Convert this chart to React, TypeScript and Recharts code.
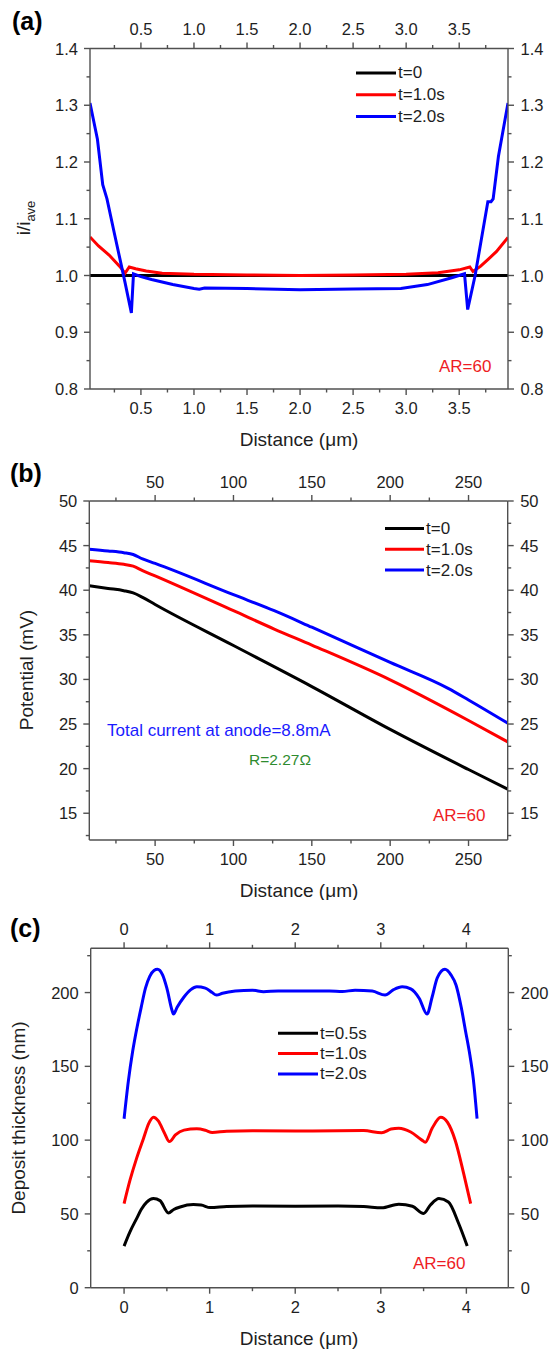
import React from 'react';
import { LineChart, Line, XAxis, YAxis, Legend } from 'recharts';

const FONT = '"Liberation Sans", Arial, Helvetica, sans-serif';
const AXIS = '#505050';
const INK = '#1e1e1e';
const BLACK = '#000000';
const RED = '#ff0000';
const BLUE = '#0000ff';
const ANN_RED = '#ee1c24';
const ANN_BLUE = '#1a1aff';
const ANN_GREEN = '#2e8b2e';

// ---------- Panel (a): i/i_ave vs distance (um) ----------
const aBlackX = [0.02, 3.96];
const aBlackY = [1.0, 1.0];
const aRedX = [0.02, 0.1, 0.2, 0.3, 0.35, 0.39, 0.45, 0.55, 0.7, 1.0, 1.5, 2.0, 2.5, 3.0, 3.3, 3.5, 3.6, 3.63, 3.7, 3.77, 3.85, 3.96];
const aRedY = [1.068, 1.052, 1.036, 1.016, 1.004, 1.015, 1.012, 1.008, 1.004, 1.002, 1.001, 1.0, 1.001, 1.002, 1.005, 1.01, 1.015, 1.007, 1.016, 1.028, 1.042, 1.067];
const aBlueX = [0.02, 0.09, 0.14, 0.18, 0.25, 0.3, 0.35, 0.41, 0.43, 0.5, 0.6, 0.8, 1.0, 1.05, 1.1, 1.5, 2.0, 2.5, 2.95, 3.2, 3.43, 3.55, 3.58, 3.65, 3.77, 3.8, 3.82, 3.87, 3.96];
const aBlueY = [1.304, 1.24, 1.16, 1.135, 1.074, 1.031, 0.988, 0.934, 1.003, 0.998, 0.993, 0.984, 0.977, 0.976, 0.978, 0.977, 0.975, 0.976, 0.977, 0.984, 0.996, 1.003, 0.94, 1.0, 1.13, 1.13, 1.135, 1.21, 1.304];
const aXTicks = [0.25, 0.5, 0.75, 1.0, 1.25, 1.5, 1.75, 2.0, 2.25, 2.5, 2.75, 3.0, 3.25, 3.5, 3.75];
const aXMajor = [0.5, 1.0, 1.5, 2.0, 2.5, 3.0, 3.5];
const aYTicks = [0.8, 0.85, 0.9, 0.95, 1.0, 1.05, 1.1, 1.15, 1.2, 1.25, 1.3, 1.35, 1.4];
const aYMajor = [0.8, 0.9, 1.0, 1.1, 1.2, 1.3, 1.4];

// ---------- Panel (b): potential (mV) vs distance (um) ----------
const bBlackX = [8, 20, 30, 36, 42, 50, 100, 150, 200, 250, 275];
const bBlackY = [40.5, 40.2, 39.95, 39.7, 39.2, 38.4, 33.8, 29.2, 24.4, 19.9, 17.7];
const bRedX = [8, 20, 30, 36, 42, 50, 100, 126, 150, 200, 250, 275];
const bRedY = [43.3, 43.1, 42.9, 42.7, 42.2, 41.6, 37.7, 35.65, 33.85, 29.95, 25.4, 23.0];
const bBlueX = [8, 20, 30, 36, 42, 50, 100, 126, 150, 200, 237, 250, 275];
const bBlueY = [44.6, 44.4, 44.2, 44.0, 43.5, 43.0, 39.5, 37.7, 35.85, 31.9, 29.0, 27.7, 25.1];
const bXTicks = [25, 50, 75, 100, 125, 150, 175, 200, 225, 250];
const bXMajor = [50, 100, 150, 200, 250];
const bYTicks = [12.5, 15, 17.5, 20, 22.5, 25, 27.5, 30, 32.5, 35, 37.5, 40, 42.5, 45, 47.5, 50];
const bYMajor = [15, 20, 25, 30, 35, 40, 45, 50];

// ---------- Panel (c): deposit thickness (nm) vs distance (um) ----------
const cBlackX = [0, 0.07, 0.148, 0.2, 0.265, 0.343, 0.42, 0.518, 0.58, 0.655, 0.81, 0.9, 1.006, 1.2, 1.5, 2.0, 2.5, 2.8, 3.01, 3.21, 3.37, 3.5, 3.58, 3.68, 3.79, 3.91, 4.01];
const cBlackY = [28.2, 38, 47, 53, 58, 60.4, 59, 50.7, 53, 54.7, 56.3, 56, 54.3, 55, 55.3, 55.2, 55.3, 55, 54.1, 56.6, 55.2, 50.3, 56, 60.4, 58.1, 43.5, 28.2];
const cRedX = [0, 0.07, 0.148, 0.226, 0.29, 0.343, 0.4, 0.47, 0.53, 0.6, 0.7, 0.85, 0.95, 1.03, 1.2, 1.5, 2.0, 2.5, 2.8, 3.01, 3.12, 3.21, 3.35, 3.48, 3.52, 3.6, 3.7, 3.78, 3.87, 3.97, 4.05];
const cRedY = [57, 73, 88, 101, 111.5, 115.5, 113, 105, 99, 103.5, 106.8, 107.7, 106.7, 105.2, 106, 106.3, 106.2, 106.4, 106.5, 105, 107.5, 108.1, 105.5, 100, 98.6, 108, 115.5, 112, 99.8, 77, 57];
const cBlueX = [0, 0.05, 0.1, 0.15, 0.2, 0.25, 0.3, 0.35, 0.39, 0.45, 0.5, 0.56, 0.577, 0.62, 0.7, 0.78, 0.85, 0.95, 1.03, 1.08, 1.15, 1.3, 1.5, 1.63, 1.8, 2.0, 2.2, 2.4, 2.55, 2.7, 2.9, 3.05, 3.15, 3.25, 3.35, 3.45, 3.54, 3.6, 3.66, 3.75, 3.82, 3.88, 3.94, 3.99, 4.04, 4.08, 4.125];
const cBlueY = [114.5, 140, 160, 176, 190, 203, 211, 215, 215.8, 212, 203, 188, 185.4, 190, 197, 202, 203.9, 203, 200, 198.3, 199.5, 201, 201.6, 200.6, 201.1, 201, 201, 201, 200.7, 201.6, 201, 198.3, 202, 203.9, 202.5, 196, 185.4, 197, 210, 215.8, 212, 205, 190, 174, 158, 142, 114.5];
const cXTicks = [0, 0.5, 1, 1.5, 2, 2.5, 3, 3.5, 4];
const cXMajor = [0, 1, 2, 3, 4];
const cYTicks = [0, 25, 50, 75, 100, 125, 150, 175, 200, 225];
const cYMajor = [0, 50, 100, 150, 200];

const zip = (xs: number[], ys: number[]) => xs.map((x, i) => ({ x, y: ys[i] }));

type Side = 'top' | 'bottom' | 'left' | 'right';
function makeTick(side: Side, majors: number[], fmt: (v: number) => string, gap: number) {
  return (props: any) => {
    const { x, y, payload } = props;
    const v = Number(payload.value);
    const isMajor = majors.some((m) => Math.abs(m - v) < 1e-6);
    const len = isMajor ? 6 : 3.5;
    let x2 = x, y2 = y, tx = x, ty = y;
    let anchor: 'start' | 'middle' | 'end' = 'middle';
    if (side === 'bottom') { y2 = y + len; ty = y + gap; }
    else if (side === 'top') { y2 = y - len; ty = y - gap; }
    else if (side === 'left') { x2 = x - len; tx = x - gap; anchor = 'end'; }
    else { x2 = x + len; tx = x + gap; anchor = 'start'; }
    return (
      <g>
        <line x1={x} y1={y} x2={x2} y2={y2} stroke={AXIS} strokeWidth={1.4} />
        {isMajor && (
          <text x={tx} y={ty} textAnchor={anchor} dominantBaseline="central" fontSize={16.5} fontFamily={FONT} fill={INK}>
            {fmt(v)}
          </text>
        )}
      </g>
    );
  };
}

function legendContent(rowH: number, lineW: number) {
  return (props: any) => {
    const payload = props.payload || [];
    return (
      <svg width={130} height={rowH * payload.length + 4} style={{ overflow: 'visible', display: 'block' }}>
        {payload.map((p: any, i: number) => {
          const cy = rowH * i + rowH / 2;
          return (
            <g key={i}>
              <line x1={0} x2={lineW} y1={cy} y2={cy} stroke={p.color} strokeWidth={3} />
              <text x={lineW + 2} y={cy} dominantBaseline="central" fontSize={17} fontFamily={FONT} fill={INK}>
                {p.value}
              </text>
            </g>
          );
        })}
      </svg>
    );
  };
}

interface SeriesDef { name: string; color: string; xs: number[]; ys: number[] }
interface PanelProps {
  height: number;
  margin: { top: number; right: number; bottom: number; left: number };
  rightW: number;
  xDomain: [number, number];
  yDomain: [number, number];
  xTicks: number[]; xMajor: number[]; xFmt: (v: number) => string;
  yTicks: number[]; yMajor: number[]; yFmt: (v: number) => string;
  series: SeriesDef[];
  curve: 'linear' | 'monotone';
  legendPos: { left: number; top: number; rowH: number; lineW: number };
  children?: React.ReactNode;
}

function Panel(p: PanelProps) {
  const axisLine = { stroke: AXIS, strokeWidth: 1.4 };
  return (
    <LineChart width={550} height={p.height} margin={p.margin} style={{ fontFamily: FONT }}>
      <XAxis xAxisId="b" orientation="bottom" type="number" dataKey="x" domain={p.xDomain} allowDataOverflow
        ticks={p.xTicks} interval={0} tickSize={0} tickMargin={0} tickLine={false} axisLine={axisLine} height={30}
        tick={makeTick('bottom', p.xMajor, p.xFmt, 19)} />
      <XAxis xAxisId="t" orientation="top" type="number" dataKey="x" domain={p.xDomain} allowDataOverflow
        ticks={p.xTicks} interval={0} tickSize={0} tickMargin={0} tickLine={false} axisLine={axisLine} height={30}
        tick={makeTick('top', p.xMajor, p.xFmt, 19.5)} />
      <YAxis yAxisId="l" orientation="left" type="number" domain={p.yDomain} allowDataOverflow
        ticks={p.yTicks} interval={0} tickSize={0} tickMargin={0} tickLine={false} axisLine={axisLine} width={60}
        tick={makeTick('left', p.yMajor, p.yFmt, 12)} />
      <YAxis yAxisId="r" orientation="right" type="number" domain={p.yDomain} allowDataOverflow
        ticks={p.yTicks} interval={0} tickSize={0} tickMargin={0} tickLine={false} axisLine={axisLine} width={p.rightW}
        tick={makeTick('right', p.yMajor, p.yFmt, 12.5)} />
      {p.series.map((s) => (
        <Line key={s.name} xAxisId="b" yAxisId="l" data={zip(s.xs, s.ys)} dataKey="y" name={s.name}
          stroke={s.color} strokeWidth={3} dot={false} activeDot={false} type={p.curve} isAnimationActive={false} />
      ))}
      <Legend layout="vertical" align="center" verticalAlign="middle"
        wrapperStyle={{ left: p.legendPos.left, top: p.legendPos.top, width: 140, height: p.legendPos.rowH * 3 + 4 }}
        content={legendContent(p.legendPos.rowH, p.legendPos.lineW)} />
      {p.children}
    </LineChart>
  );
}

const f1 = (v: number) => v.toFixed(1);
const f0 = (v: number) => String(Math.round(v));

const titleStyle = { fontSize: 19, fontFamily: FONT, fill: INK } as const;
const panelLabel = { fontSize: 25, fontFamily: FONT, fontWeight: 700, fill: '#000' } as const;

export default function App() {
  return (
    <div style={{ position: 'absolute', left: 0, top: 0, width: 550, height: 1352, background: '#fff', fontFamily: FONT, overflow: 'hidden' }}>
      <div style={{ position: 'absolute', left: 0, top: 0 }}>
        <Panel
          height={450}
          margin={{ top: 18.5, right: 0, bottom: 31, left: 30 }}
          rightW={42}
          xDomain={[0.02, 3.96]} yDomain={[0.8, 1.4]}
          xTicks={aXTicks} xMajor={aXMajor} xFmt={f1}
          yTicks={aYTicks} yMajor={aYMajor} yFmt={f1}
          curve="linear"
          series={[
            { name: 't=0', color: BLACK, xs: aBlackX, ys: aBlackY },
            { name: 't=1.0s', color: RED, xs: aRedX, ys: aRedY },
            { name: 't=2.0s', color: BLUE, xs: aBlueX, ys: aBlueY },
          ]}
          legendPos={{ left: 356, top: 61.8, rowH: 21.8, lineW: 40 }}
        >
          <text x={12} y={30} {...panelLabel}>(a)</text>
          <text x={299} y={439} textAnchor="middle" dominantBaseline="central" {...titleStyle}>Distance (μm)</text>
          <text transform="translate(30,218) rotate(-90)" textAnchor="middle" {...titleStyle}>
            i/i<tspan fontSize={13} dy={5}>ave</tspan>
          </text>
          <text x={439} y={366} dominantBaseline="central" fontSize={17} fontFamily={FONT} fill={ANN_RED}>AR=60</text>
        </Panel>
      </div>
      <div style={{ position: 'absolute', left: 0, top: 450 }}>
        <Panel
          height={450}
          margin={{ top: 21, right: 0.3, bottom: 30, left: 29.3 }}
          rightW={42}
          xDomain={[8, 275]} yDomain={[12, 50]}
          xTicks={bXTicks} xMajor={bXMajor} xFmt={f0}
          yTicks={bYTicks} yMajor={bYMajor} yFmt={f0}
          curve="monotone"
          series={[
            { name: 't=0', color: BLACK, xs: bBlackX, ys: bBlackY },
            { name: 't=1.0s', color: RED, xs: bRedX, ys: bRedY },
            { name: 't=2.0s', color: BLUE, xs: bBlueX, ys: bBlueY },
          ]}
          legendPos={{ left: 385, top: 67.9, rowH: 20.8, lineW: 39 }}
        >
          <text x={10} y={32} {...panelLabel}>(b)</text>
          <text x={299} y={440} textAnchor="middle" dominantBaseline="central" {...titleStyle}>Distance (μm)</text>
          <text transform="translate(26,220) rotate(-90)" textAnchor="middle" dominantBaseline="central" {...titleStyle}>Potential (mV)</text>
          <text x={107} y={280} dominantBaseline="central" fontSize={17} fontFamily={FONT} fill={ANN_BLUE}>Total current at anode=8.8mA</text>
          <text x={249} y={309} dominantBaseline="central" fontSize={15.5} fontFamily={FONT} fill={ANN_GREEN}>R=2.27Ω</text>
          <text x={433} y={365} dominantBaseline="central" fontSize={17} fontFamily={FONT} fill={ANN_RED}>AR=60</text>
        </Panel>
      </div>
      <div style={{ position: 'absolute', left: 0, top: 900 }}>
        <Panel
          height={452}
          margin={{ top: 18.3, right: 0, bottom: 34.3, left: 30.7 }}
          rightW={41.7}
          xDomain={[-0.39, 4.49]} yDomain={[0, 230]}
          xTicks={cXTicks} xMajor={cXMajor} xFmt={f0}
          yTicks={cYTicks} yMajor={cYMajor} yFmt={f0}
          curve="monotone"
          series={[
            { name: 't=0.5s', color: BLACK, xs: cBlackX, ys: cBlackY },
            { name: 't=1.0s', color: RED, xs: cRedX, ys: cRedY },
            { name: 't=2.0s', color: BLUE, xs: cBlueX, ys: cBlueY },
          ]}
          legendPos={{ left: 278, top: 123.1, rowH: 20.35, lineW: 40 }}
        >
          <text x={10} y={37} {...panelLabel}>(c)</text>
          <text x={299} y={438} textAnchor="middle" dominantBaseline="central" {...titleStyle}>Distance (μm)</text>
          <text transform="translate(18,218) rotate(-90)" textAnchor="middle" dominantBaseline="central" {...titleStyle}>Deposit thickness (nm)</text>
          <text x={413} y={363} dominantBaseline="central" fontSize={17} fontFamily={FONT} fill={ANN_RED}>AR=60</text>
        </Panel>
      </div>
    </div>
  );
}
